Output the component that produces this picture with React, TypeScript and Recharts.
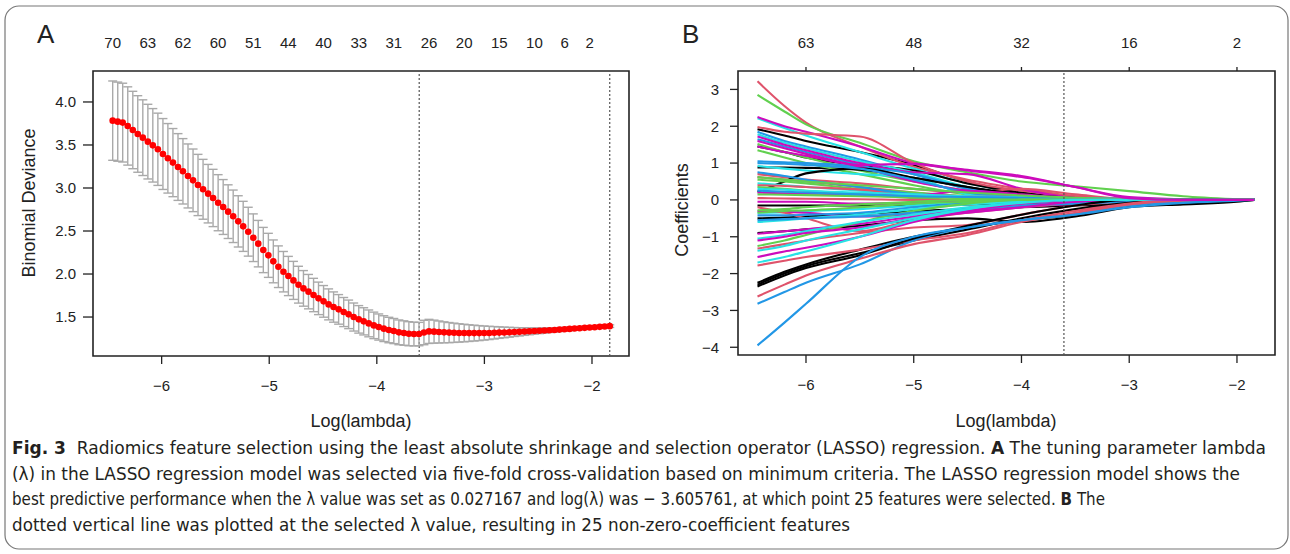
import React from "react";
import {
  ComposedChart,
  LineChart,
  Line,
  Scatter,
  ErrorBar,
  XAxis,
  YAxis,
  ReferenceLine,
  ReferenceArea,
} from "recharts";

const FONT = '"Liberation Sans", Arial, sans-serif';
const CAPTION_FONT = '"Liberation Sans Narrow", "DejaVu Sans Condensed", "Liberation Sans", Arial, sans-serif';
const INK = "#222";

// ---- panel A: cross-validated deviance ----
const cvLogLambda = [
  -6.455, -6.408, -6.362, -6.315, -6.268, -6.222, -6.175, -6.128, -6.082, -6.035,
  -5.988, -5.942, -5.895, -5.848, -5.802, -5.755, -5.708, -5.662, -5.615, -5.568,
  -5.522, -5.475, -5.428, -5.382, -5.335, -5.288, -5.242, -5.195, -5.148, -5.102,
  -5.055, -5.008, -4.962, -4.915, -4.868, -4.822, -4.775, -4.728, -4.682, -4.635,
  -4.588, -4.542, -4.495, -4.448, -4.402, -4.355, -4.308, -4.262, -4.215, -4.168,
  -4.122, -4.075, -4.028, -3.982, -3.935, -3.888, -3.842, -3.795, -3.748, -3.702,
  -3.655, -3.608, -3.562, -3.515, -3.468, -3.422, -3.375, -3.328, -3.282, -3.235,
  -3.188, -3.142, -3.095, -3.048, -3.002, -2.955, -2.908, -2.862, -2.815, -2.768,
  -2.722, -2.675, -2.628, -2.582, -2.535, -2.488, -2.442, -2.395, -2.348, -2.302,
  -2.255, -2.208, -2.162, -2.115, -2.068, -2.022, -1.975, -1.928, -1.882, -1.835,
];

const cvMean = [
  3.783, 3.771, 3.760, 3.721, 3.674, 3.628, 3.585, 3.539, 3.496, 3.450,
  3.395, 3.345, 3.295, 3.244, 3.194, 3.140, 3.089, 3.035, 2.985, 2.934,
  2.884, 2.829, 2.779, 2.725, 2.671, 2.612, 2.554, 2.492, 2.422, 2.353,
  2.279, 2.217, 2.147, 2.085, 2.027, 1.977, 1.926, 1.876, 1.833, 1.795,
  1.756, 1.717, 1.682, 1.647, 1.616, 1.589, 1.558, 1.531, 1.500, 1.473,
  1.450, 1.426, 1.403, 1.384, 1.365, 1.349, 1.337, 1.322, 1.314, 1.306,
  1.302, 1.302, 1.320, 1.333, 1.330, 1.326, 1.322, 1.319, 1.317, 1.315,
  1.314, 1.313, 1.313, 1.313, 1.314, 1.315, 1.317, 1.319, 1.321, 1.323,
  1.326, 1.328, 1.331, 1.334, 1.337, 1.340, 1.343, 1.347, 1.350, 1.354,
  1.358, 1.362, 1.366, 1.370, 1.374, 1.378, 1.382, 1.386, 1.390, 1.394,
];

const cvSd = [
  0.461, 0.460, 0.458, 0.455, 0.450, 0.445, 0.440, 0.434, 0.427, 0.420,
  0.412, 0.404, 0.396, 0.388, 0.380, 0.372, 0.364, 0.356, 0.348, 0.340,
  0.333, 0.326, 0.319, 0.312, 0.305, 0.298, 0.291, 0.284, 0.277, 0.270,
  0.263, 0.256, 0.249, 0.242, 0.235, 0.228, 0.221, 0.214, 0.207, 0.200,
  0.194, 0.189, 0.184, 0.180, 0.176, 0.172, 0.169, 0.166, 0.163, 0.160,
  0.158, 0.156, 0.154, 0.152, 0.150, 0.148, 0.146, 0.144, 0.142, 0.140,
  0.138, 0.136, 0.142, 0.140, 0.134, 0.128, 0.122, 0.117, 0.112, 0.107,
  0.102, 0.097, 0.092, 0.087, 0.082, 0.077, 0.072, 0.067, 0.062, 0.057,
  0.052, 0.048, 0.044, 0.040, 0.036, 0.033, 0.030, 0.027, 0.025, 0.023,
  0.021, 0.020, 0.019, 0.018, 0.017, 0.016, 0.016, 0.015, 0.015, 0.015,
];

const nzeroAt = [
  -6.455, -6.128, -5.802, -5.475, -5.148, -4.822, -4.495, -4.168,
  -3.842, -3.515, -3.188, -2.862, -2.535, -2.255, -2.022,
];
const nzeroLabels = [70, 63, 62, 60, 51, 44, 40, 33, 31, 26, 20, 15, 10, 6, 2];
const devianceTicks = [1.5, 2.0, 2.5, 3.0, 3.5, 4.0];
const lambdaMin = -3.606;
const lambda1se = -1.835;

// ---- panel B: coefficient paths ----
const pathLogLambda = [-6.45, -6.2, -6.0, -5.5, -5.0, -4.5, -4.0, -3.5, -3.0, -2.5, -2.0, -1.84];

// variable order follows R's palette cycle: black, red, green, blue, cyan, magenta
const coefPaths = [
  [1.92, 1.75, 1.6, 1.3, 0.95, 0.5, 0.15, 0.03, 0, 0, 0, 0],
  [3.22, 2.55, 2.1, 1.45, 0.9, 0.55, 0.3, 0.1, 0, 0, 0, 0],
  [2.85, 2.4, 2.05, 1.55, 1.05, 0.75, 0.5, 0.37, 0.24, 0.1, 0.02, 0],
  [1.85, 1.6, 1.45, 1.1, 0.7, 0.3, 0.1, 0, 0, 0, 0, 0],
  [2.22, 1.95, 1.75, 1.3, 0.85, 0.45, 0.2, 0.05, 0, 0, 0, 0],
  [2.25, 2.0, 1.85, 1.45, 1.0, 0.82, 0.65, 0.35, 0.08, 0.02, 0, 0],

  [1.45, 1.3, 1.15, 0.95, 0.8, 0.45, 0.2, 0.05, 0, 0, 0, 0],
  [1.98, 1.85, 1.8, 1.72, 1.0, 0.5, 0.25, 0.1, 0.03, 0, 0, 0],
  [1.52, 1.3, 1.15, 0.8, 0.5, 0.25, 0.1, 0.02, 0, 0, 0, 0],
  [1.65, 1.45, 1.3, 0.95, 0.55, 0.2, 0.05, 0, 0, 0, 0, 0],
  [1.78, 1.55, 1.4, 1.05, 0.75, 0.35, 0.1, 0, 0, 0, 0, 0],
  [1.72, 1.5, 1.35, 1.0, 0.75, 0.7, 0.3, 0.05, 0, 0, 0, 0],

  [0.88, 0.88, 0.87, 0.82, 0.6, 0.35, 0.12, 0.02, 0, 0, 0, 0],
  [0.7, 0.62, 0.55, 0.45, 0.3, 0.2, 0.3, 0.15, 0.02, 0, 0, 0],
  [1.35, 1.15, 1.0, 0.7, 0.4, 0.15, 0.03, 0, 0, 0, 0, 0],
  [1.05, 1.02, 1.0, 0.9, 0.7, 0.3, 0.1, 0, 0, 0, 0, 0],
  [0.92, 0.85, 0.8, 0.7, 0.6, 0.15, 0.05, 0, 0, 0, 0, 0],
  [1.6, 1.4, 1.25, 0.9, 0.5, 0.25, 0.08, 0, 0, 0, 0, 0],

  [0.22, 0.5, 0.72, 0.85, 0.6, 0.35, 0.15, 0.05, 0, 0, 0, 0],
  [0.62, 0.55, 0.5, 0.35, 0.2, 0.08, 0.02, 0, 0, 0, 0, 0],
  [0.55, 0.5, 0.45, 0.3, 0.2, 0.1, 0.05, 0.02, 0, 0, 0, 0],
  [1.0, 0.98, 0.95, 0.85, 0.55, 0.2, 0.05, 0, 0, 0, 0, 0],
  [0.45, 0.4, 0.35, 0.25, 0.15, 0.05, 0, 0, 0, 0, 0, 0],
  [0.2, 0.18, 0.17, 0.15, 0.12, 0.25, 0.15, 0.05, 0, 0, 0, 0],

  [-0.15, -0.15, -0.15, -0.15, -0.15, -0.12, -0.1, -0.08, -0.05, -0.02, -0.01, 0],
  [0.4, 0.38, 0.35, 0.28, 0.15, 0.1, 0.08, 0.06, 0.02, 0, 0, 0],
  [0.35, 0.3, 0.25, 0.15, 0.05, 0, 0, 0, 0, 0, 0, 0],
  [0.75, 0.65, 0.55, 0.35, 0.15, 0.05, 0, 0, 0, 0, 0, 0],
  [0.3, 0.28, 0.25, 0.2, 0.15, 0.1, 0.08, 0.05, 0.02, 0, 0, 0],
  [-0.05, -0.05, -0.05, -0.1, -0.08, -0.03, 0, 0, 0, 0, 0, 0],

  [-0.5, -0.48, -0.45, -0.38, -0.3, -0.25, -0.2, -0.15, -0.12, -0.08, -0.03, 0],
  [0.05, 0.04, 0.03, 0.02, 0, 0, 0, 0, 0, 0, 0, 0],
  [0.15, 0.14, 0.13, 0.1, 0.08, 0.05, 0.03, 0.02, 0, 0, 0, 0],
  [0.25, 0.22, 0.2, 0.15, 0.1, 0.08, 0.06, 0.05, 0.03, 0.02, 0.01, 0],
  [-0.35, -0.33, -0.3, -0.25, -0.15, -0.05, 0, 0, 0, 0, 0, 0],
  [-0.3, -0.32, -0.35, -0.45, -0.4, -0.3, -0.2, -0.1, -0.03, 0, 0, 0],

  [-0.9, -0.85, -0.8, -0.7, -0.55, -0.5, -0.6, -0.45, -0.2, -0.12, -0.05, 0],
  [-0.2, -0.35, -0.5, -0.85, -0.55, -0.35, -0.2, -0.08, 0, 0, 0, 0],
  [-0.28, -0.25, -0.2, -0.12, -0.05, 0, 0, 0, 0, 0, 0, 0],
  [-0.42, -0.42, -0.4, -0.35, -0.2, -0.1, -0.05, -0.03, 0, 0, 0, 0],
  [-0.6, -0.55, -0.5, -0.4, -0.25, -0.12, -0.05, 0, 0, 0, 0, 0],
  [-0.92, -0.85, -0.8, -0.65, -0.45, -0.3, -0.15, -0.05, 0, 0, 0, 0],

  [-2.25, -1.95, -1.75, -1.35, -1.0, -0.75, -0.55, -0.4, -0.15, -0.05, 0, 0],
  [-1.32, -1.2, -1.1, -0.9, -0.75, -0.68, -0.4, -0.15, -0.05, 0, 0, 0],
  [-1.25, -1.1, -0.95, -0.6, -0.3, -0.1, 0, 0, 0, 0, 0, 0],
  [-0.55, -0.52, -0.5, -0.45, -0.35, -0.25, -0.15, -0.1, -0.05, -0.02, 0, 0],
  [-1.05, -0.95, -0.85, -0.6, -0.4, -0.2, -0.08, 0, 0, 0, 0, 0],
  [-1.1, -1.0, -0.9, -0.75, -0.5, -0.35, -0.2, -0.05, 0, 0, 0, 0],

  [-2.3, -2.0, -1.8, -1.45, -1.1, -0.8, -0.5, -0.25, -0.08, 0, 0, 0],
  [-1.78, -1.65, -1.55, -1.35, -1.1, -0.9, -0.55, -0.3, -0.1, 0, 0, 0],
  [0.62, 0.55, 0.5, 0.4, 0.3, 0.2, 0.12, 0.06, 0.02, 0, 0, 0],
  [-2.82, -2.5, -2.25, -1.75, -1.1, -0.75, -0.55, -0.38, -0.15, -0.05, 0, 0],
  [-1.38, -1.25, -1.1, -0.8, -0.5, -0.25, -0.1, 0, 0, 0, 0, 0],
  [-1.55, -1.4, -1.3, -1.0, -0.6, -0.3, -0.1, 0, 0, 0, 0, 0],

  [-2.35, -2.05, -1.85, -1.5, -1.05, -0.7, -0.4, -0.15, 0, 0, 0, 0],
  [-2.62, -2.3, -2.05, -1.6, -1.2, -0.95, -0.6, -0.35, -0.12, -0.02, 0, 0],
  [-0.35, -0.3, -0.28, -0.2, -0.1, -0.05, 0, 0, 0, 0, 0, 0],
  [-3.95, -3.33, -2.82, -1.55, -1.0, -0.75, -0.55, -0.4, -0.2, -0.08, -0.02, 0],
  [-1.7, -1.55, -1.4, -1.0, -0.55, -0.25, -0.08, 0, 0, 0, 0, 0],
  [1.45, 1.3, 1.2, 0.95, 0.98, 0.8, 0.62, 0.35, 0.05, 0, 0, 0],
];

const pathTopAt = [-6, -5, -4, -3, -2];
const pathTopLabels = [63, 48, 32, 16, 2];
const coefTicks = [-4, -3, -2, -1, 0, 1, 2, 3];
const lambdaTicks = [-6, -5, -4, -3, -2];

const rPalette = ["#000000", "#DF536B", "#61D04F", "#2297E6", "#28E2E5", "#CD0BBC"];

const minus = (v: number) => (v < 0 ? "\u2212" + Math.abs(v) : String(v));
const tickFont = { fontSize: 15, fill: INK, fontFamily: FONT };
const tickStroke = { stroke: INK, strokeWidth: 1.3 };

function PanelA() {
  const data = cvLogLambda.map((x, i) => ({ x, cvm: cvMean[i], sd: cvSd[i] }));
  const xDom: [number, number] = [-6.638, -1.656];
  const yDom: [number, number] = [1.047, 4.36];
  return (
    <ComposedChart width={660} height={440} data={data} margin={{ top: 43, right: 31, bottom: 54, left: 33 }}>
      <XAxis
        dataKey="x"
        type="number"
        domain={xDom}
        allowDataOverflow
        ticks={lambdaTicks}
        tickFormatter={minus}
        height={30}
        tickSize={8}
        tickMargin={16}
        axisLine={false}
        tickLine={tickStroke}
        tick={tickFont}
      />
      <XAxis
        xAxisId="top"
        orientation="top"
        dataKey="x"
        type="number"
        domain={xDom}
        allowDataOverflow
        ticks={nzeroAt}
        tickFormatter={(v: number) => String(nzeroLabels[nzeroAt.indexOf(v)] ?? "")}
        height={28}
        tickSize={4}
        tickMargin={19}
        axisLine={false}
        tickLine={false}
        tick={tickFont}
        interval={0}
      />
      <YAxis
        type="number"
        domain={yDom}
        allowDataOverflow
        ticks={devianceTicks}
        tickFormatter={(v: number) => v.toFixed(1)}
        width={60}
        tickSize={10}
        tickMargin={7}
        axisLine={false}
        tickLine={tickStroke}
        tick={tickFont}
        interval={0}
      />
      <ReferenceLine x={lambdaMin} stroke="#555" strokeDasharray="2 2" strokeWidth={1.2} />
      <ReferenceLine x={lambda1se} stroke="#555" strokeDasharray="2 2" strokeWidth={1.2} />
      <Line
        xAxisId="top"
        dataKey="cvm"
        stroke="none"
        dot={false}
        activeDot={false}
        isAnimationActive={false}
      />
      <Scatter
        dataKey="cvm"
        isAnimationActive={false}
        shape={(p: any) => <circle cx={p.cx} cy={p.cy} r={3.3} fill="#FF0000" />}
      >
        <ErrorBar dataKey="sd" direction="y" width={4.5} stroke="#A9A9A9" strokeWidth={1.4} isAnimationActive={false} />
      </Scatter>
      <ReferenceArea
        x1={xDom[0]}
        x2={xDom[1]}
        y1={yDom[0]}
        y2={yDom[1]}
        fill="none"
        fillOpacity={0}
        stroke={INK}
        strokeWidth={1.6}
        ifOverflow="visible"
      />
    </ComposedChart>
  );
}

function PanelB() {
  const data = pathLogLambda.map((x, j) => {
    const row: Record<string, number> = { x };
    coefPaths.forEach((p, i) => {
      row["c" + i] = p[j];
    });
    return row;
  });
  const xDom: [number, number] = [-6.631, -1.647];
  const yDom: [number, number] = [-4.21, 3.5];
  return (
    <LineChart width={630} height={440} data={data} margin={{ top: 43, right: 15, bottom: 55, left: 28 }}>
      <XAxis
        dataKey="x"
        type="number"
        domain={xDom}
        allowDataOverflow
        ticks={lambdaTicks}
        tickFormatter={minus}
        height={30}
        tickSize={8}
        tickMargin={16}
        axisLine={false}
        tickLine={tickStroke}
        tick={tickFont}
      />
      <XAxis
        xAxisId="top"
        orientation="top"
        dataKey="x"
        type="number"
        domain={xDom}
        allowDataOverflow
        ticks={pathTopAt}
        tickFormatter={(v: number) => String(pathTopLabels[pathTopAt.indexOf(v)] ?? "")}
        height={28}
        tickSize={4}
        tickMargin={19}
        axisLine={false}
        tickLine={tickStroke}
        tick={tickFont}
      />
      <YAxis
        type="number"
        domain={yDom}
        allowDataOverflow
        ticks={coefTicks}
        tickFormatter={minus}
        width={50}
        tickSize={8}
        tickMargin={11}
        axisLine={false}
        tickLine={tickStroke}
        tick={tickFont}
        interval={0}
      />
      <Line
        xAxisId="top"
        dataKey="c0"
        stroke="none"
        dot={false}
        activeDot={false}
        isAnimationActive={false}
      />
      {coefPaths.map((_, i) => (
        <Line
          key={i}
          dataKey={"c" + i}
          type="monotone"
          stroke={rPalette[i % 6]}
          strokeWidth={2.1}
          dot={false}
          isAnimationActive={false}
        />
      ))}
      <ReferenceLine x={lambdaMin} stroke="#555" strokeDasharray="2 2" strokeWidth={1.2} />
      <ReferenceArea
        x1={xDom[0]}
        x2={xDom[1]}
        y1={yDom[0]}
        y2={yDom[1]}
        fill="none"
        fillOpacity={0}
        stroke={INK}
        strokeWidth={1.6}
        ifOverflow="visible"
      />
    </LineChart>
  );
}

const captionLines = [
  { bold: "Fig. 3", rest: "  Radiomics feature selection using the least absolute shrinkage and selection operator (LASSO) regression. ", bold2: "A", tail: " The tuning parameter lambda", width: 1254 },
  { bold: "", rest: "(\u03bb) in the LASSO regression model was selected via five-fold cross-validation based on minimum criteria. The LASSO regression model shows the", bold2: "", tail: "", width: 1228 },
  { bold: "", rest: "best predictive performance when the \u03bb value was set as 0.027167 and log(\u03bb) was \u2212 3.605761, at which point 25 features were selected. ", bold2: "B", tail: " The", width: 1093 },
  { bold: "", rest: "dotted vertical line was plotted at the selected \u03bb value, resulting in 25 non-zero-coefficient features", bold2: "", tail: "", width: 838 },
];

export default function App() {
  return (
    <div style={{ position: "absolute", left: 0, top: 0, width: 1290, height: 554, background: "#fff", fontFamily: FONT }}>
      <svg width={1290} height={554} style={{ position: "absolute", left: 0, top: 0 }}>
        <rect x={5} y={6} width={1283} height={543} rx={14} ry={14} fill="none" stroke="#777" strokeWidth={1.2} />
        <text x={37} y={43} fontSize={26} fill={INK} fontFamily={FONT}>A</text>
        <text x={682} y={43} fontSize={26} fill={INK} fontFamily={FONT}>B</text>
        <text x={361} y={427} fontSize={18} fill={INK} fontFamily={FONT} textAnchor="middle">Log(lambda)</text>
        <text x={1006} y={427} fontSize={18} fill={INK} fontFamily={FONT} textAnchor="middle">Log(lambda)</text>
        <text x={35} y={203} fontSize={18} fill={INK} fontFamily={FONT} textAnchor="middle" transform="rotate(-90 35 203)">Binomial Deviance</text>
        <text x={688} y={210} fontSize={18} fill={INK} fontFamily={FONT} textAnchor="middle" transform="rotate(-90 688 210)">Coefficients</text>
        {captionLines.map((l, i) => (
          <text
            key={i}
            x={12}
            y={454 + i * 25.5}
            fontSize={18}
            fill="#231f20"
            fontFamily={CAPTION_FONT}
            textLength={l.width}
            lengthAdjust="spacingAndGlyphs"
            xmlSpace="preserve"
          >
            {l.bold && <tspan fontWeight="bold">{l.bold}</tspan>}
            {l.rest}
            {l.bold2 && <tspan fontWeight="bold">{l.bold2}</tspan>}
            {l.tail}
          </text>
        ))}
      </svg>
      <div style={{ position: "absolute", left: 0, top: 0 }}>
        <PanelA />
      </div>
      <div style={{ position: "absolute", left: 660, top: 0 }}>
        <PanelB />
      </div>
    </div>
  );
}
